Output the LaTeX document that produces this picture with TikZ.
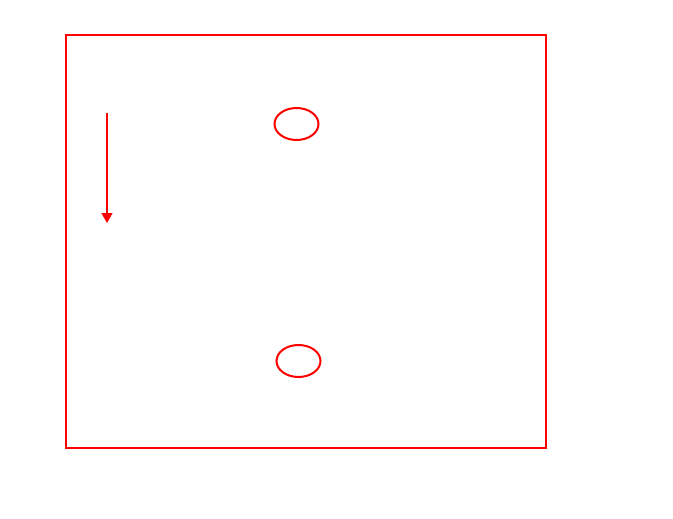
\documentclass[tikz,border=0pt]{standalone}
\usetikzlibrary{arrows.meta,shapes.geometric}
\begin{document}
\begin{tikzpicture}[x=1pt,y=-1pt,
  frame/.style={draw=red,line width=2pt},
  hole/.style={draw=red,line width=2pt,shape=ellipse,minimum width=44pt,minimum height=32pt,inner sep=0pt},
  dirarrow/.style={draw=red,line width=1.3pt,-{Triangle[width=11pt,length=10pt]}}]
\useasboundingbox (0,0) rectangle (673,519);
\node[frame,minimum width=480pt,minimum height=413pt,inner sep=0pt,anchor=north west] (box) at (65,34) {};
\node[hole] (e1) at (296.5,124) {};
\node[hole] (e2) at (298.5,361) {};
\coordinate (a1) at (107,113);
\coordinate (a2) at (107,223);
\draw[dirarrow] (a1) -- (a2);
\end{tikzpicture}
\end{document}
